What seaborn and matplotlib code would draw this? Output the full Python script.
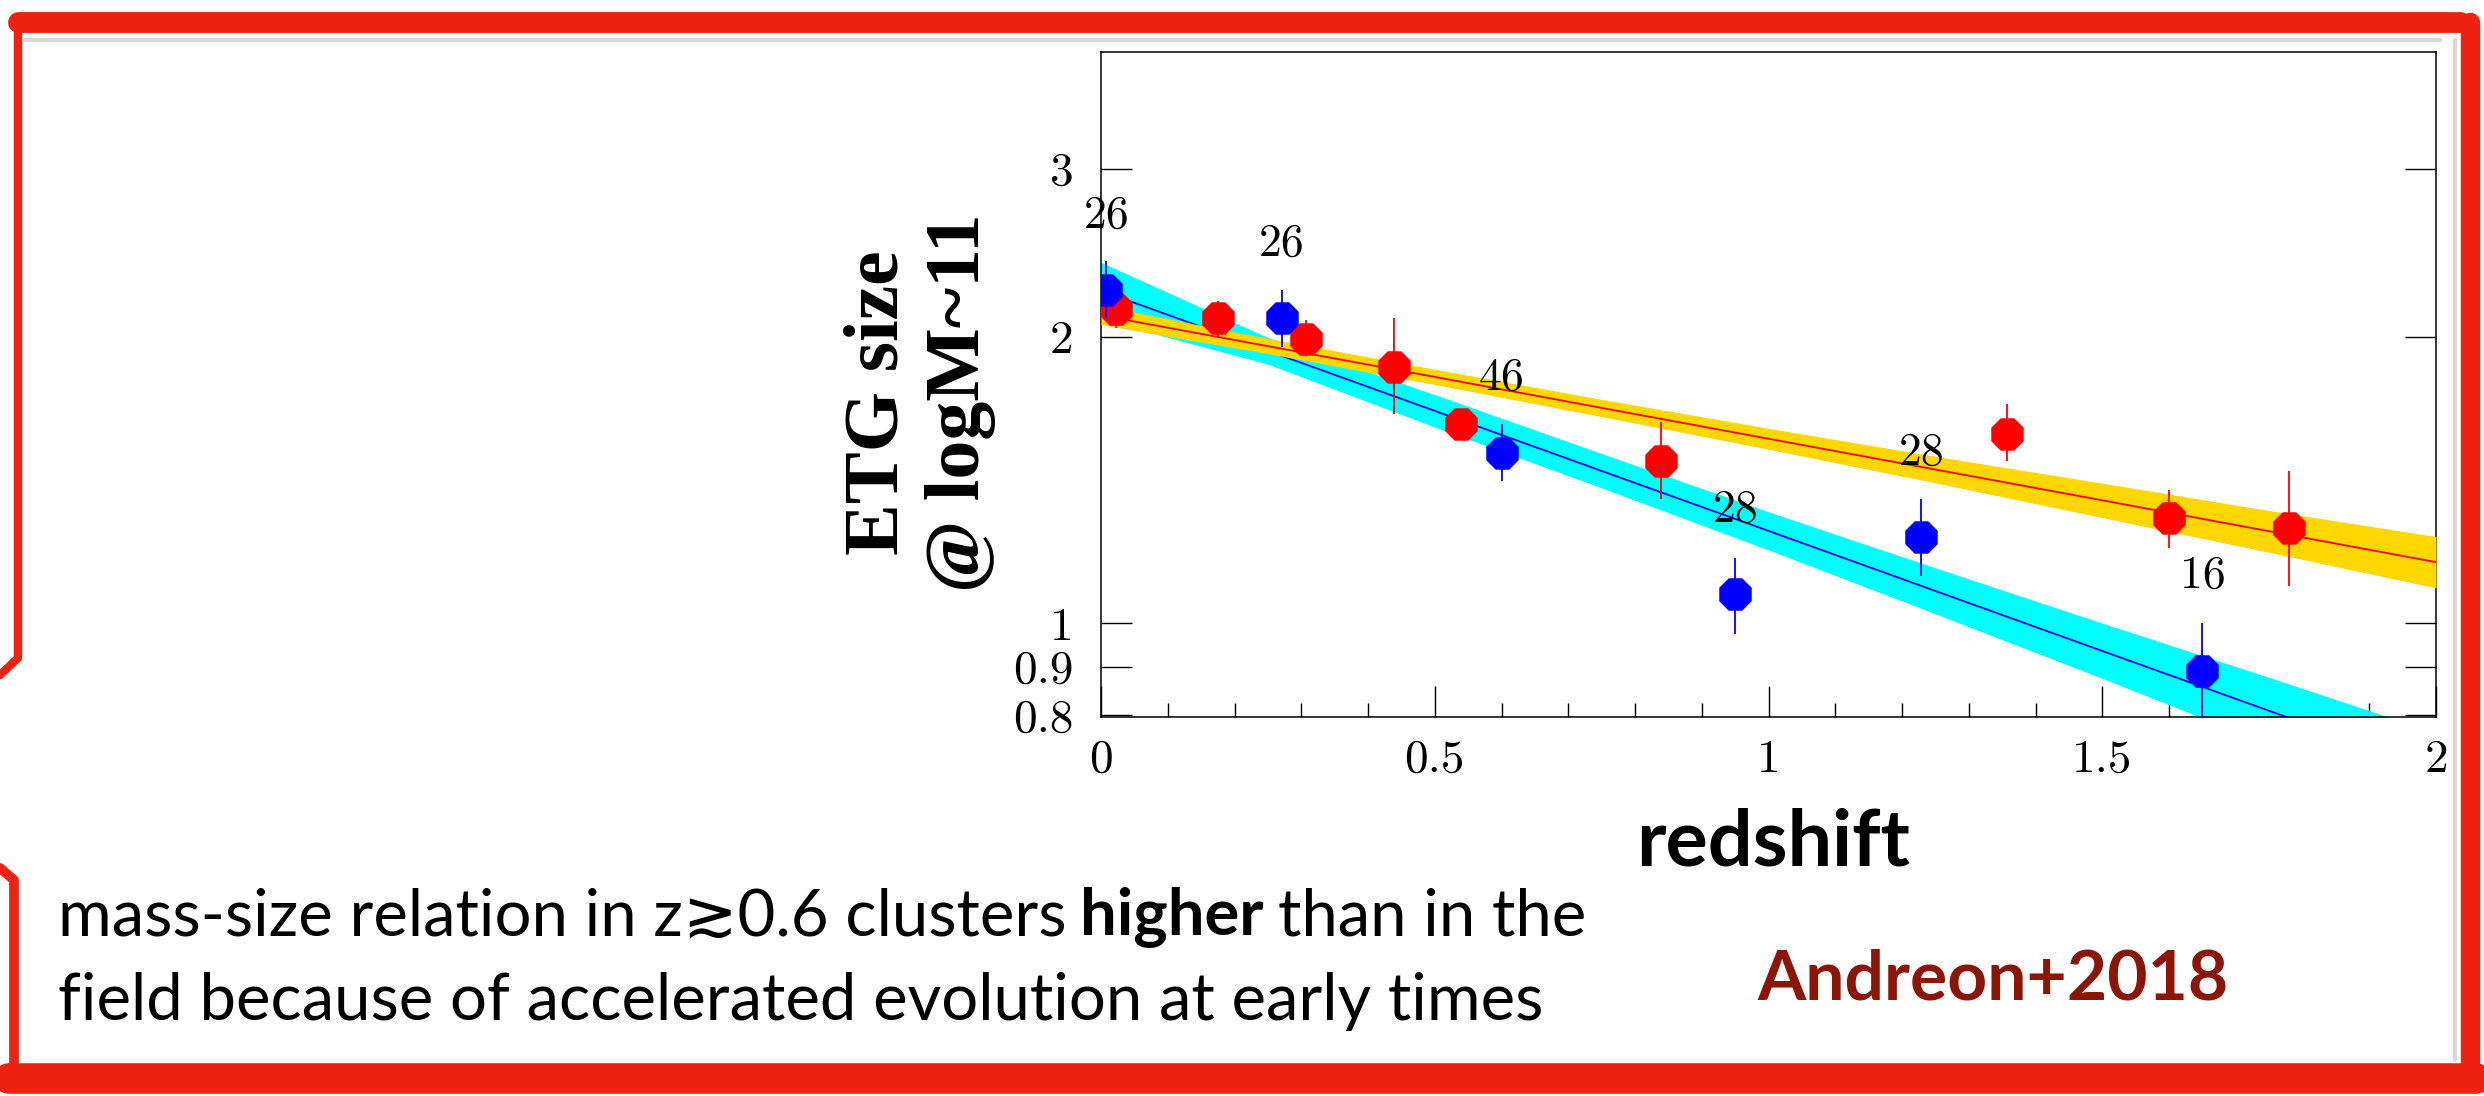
import numpy as np
import pandas as pd
import matplotlib
matplotlib.use("Agg")
import matplotlib.pyplot as plt
import seaborn as sns
from matplotlib.ticker import FixedLocator, FixedFormatter, NullLocator, MultipleLocator

# valores (tamano ETG vs redshift)
z_red = [0.023, 0.176, 0.307, 0.439, 0.540, 0.839, 1.358, 1.600, 1.780]
size_red = [2.14, 2.09, 1.99, 1.86, 1.62, 1.48, 1.58, 1.29, 1.26]
red_lo = [2.04, 2.00, 1.91, 1.66, 1.57, 1.35, 1.48, 1.20, 1.095]
red_hi = [2.20, 2.18, 2.08, 2.09, 1.68, 1.625, 1.70, 1.38, 1.445]

z_blue = [0.008, 0.271, 0.601, 0.950, 1.229, 1.650]
size_blue = [2.24, 2.09, 1.51, 1.072, 1.232, 0.890]
blue_lo = [2.09, 1.95, 1.41, 0.975, 1.122, 0.78]
blue_hi = [2.40, 2.24, 1.62, 1.17, 1.35, 1.00]
n_gal = ["26", "26", "46", "28", "28", "16"]
n_gal_y = [2.68, 2.50, 1.81, 1.315, 1.51, 1.12]

# ajustes y bandas
z_fit = [0, 0.25, 0.5, 0.75, 1.0, 1.25, 1.5, 1.75, 2.0]
red_fit = [2.105, 1.954, 1.814, 1.683, 1.562, 1.450, 1.346, 1.249, 1.159]
red_band_lo = [2.058, 1.919, 1.781, 1.648, 1.523, 1.404, 1.291, 1.187, 1.089]
red_band_hi = [2.155, 1.991, 1.848, 1.718, 1.602, 1.497, 1.403, 1.313, 1.233]
blue_fit = [2.234, 1.932, 1.671, 1.445, 1.250, 1.081, 0.935, 0.809, 0.700]
blue_band_lo = [2.084, 1.871, 1.607, 1.387, 1.194, 1.023, 0.875, 0.746, 0.638]
blue_band_hi = [2.393, 1.995, 1.738, 1.507, 1.309, 1.143, 1.000, 0.877, 0.767]

y_ticks = [0.8, 0.9, 1, 2, 3]
y_ticklabels = ["0.8", "0.9", "1", "2", "3"]

sns.set_style("ticks")
plt.rcParams['font.family'] = ['cmr10', 'DejaVu Serif']
plt.rcParams['axes.formatter.use_mathtext'] = True
plt.rcParams['text.color'] = 'black'
plt.rcParams['xtick.color'] = 'black'
plt.rcParams['ytick.color'] = 'black'

W, H = 2484, 1096
fig = plt.figure(figsize=(W / 100, H / 100), dpi=100)
ax = fig.add_axes([1101 / W, 1 - 717 / H, 1335 / W, 665 / H])
ax.set_yscale('log')

# bandas
ax.fill_between(z_fit, blue_band_lo, blue_band_hi, color='#00ffff', lw=0, zorder=1)
sns.lineplot(x=z_fit, y=blue_fit, color='#0000ff', lw=1.3, ax=ax, zorder=2)
ax.fill_between(z_fit, red_band_lo, red_band_hi, color='#ffd700', lw=0, zorder=3)
sns.lineplot(x=z_fit, y=red_fit, color='#ff0000', lw=1.3, ax=ax, zorder=4)

# puntos con barras de error
ax.vlines(z_red, red_lo, red_hi, color='#ff0000', lw=1.3, zorder=5)
sns.scatterplot(x=z_red, y=size_red, color='#ff0000', marker='8', s=640, linewidth=0, ax=ax, zorder=6)
ax.vlines(z_blue, blue_lo, blue_hi, color='#0000ff', lw=1.3, zorder=7)
sns.scatterplot(x=z_blue, y=size_blue, color='#0000ff', marker='8', s=640, linewidth=0, ax=ax, zorder=8)

for xx, yy, t in zip(z_blue, n_gal_y, n_gal):
    ax.text(xx, yy, t, ha='center', va='center', fontsize=33, zorder=9)

ax.set_xlim(0, 2)
ax.set_ylim(0.797, 3.98)
ax.yaxis.set_major_locator(FixedLocator(y_ticks))
ax.yaxis.set_major_formatter(FixedFormatter(y_ticklabels))
ax.yaxis.set_minor_locator(NullLocator())
ax.xaxis.set_major_locator(MultipleLocator(0.5))
ax.xaxis.set_minor_locator(MultipleLocator(0.1))
ax.xaxis.set_major_formatter(plt.FuncFormatter(lambda v, p: f"{v:g}"))
ax.tick_params(axis='y', which='major', direction='in', length=22, width=1, right=True, labelsize=34, pad=20)
ax.tick_params(axis='x', which='major', direction='in', length=22, width=1, top=False, labelsize=34, pad=16)
ax.tick_params(axis='x', which='minor', direction='in', length=10, width=1, top=False)
for s in ax.spines.values():
    s.set_linewidth(1.1)
    s.set_color('black')
ax.set_xlabel('')
ax.set_ylabel('')

# etiquetas de ejes
fig.text(920 / W, 1 - 403 / H, "ETG size\n@ logM~11", rotation=90, ha='center', va='center',
         multialignment='center', fontsize=56, fontweight='bold', family='Liberation Serif', linespacing=1.2)
fig.text(1773 / W, 1 - 865 / H, "redshift", ha='center', va='baseline', fontsize=57,
         fontweight='bold', family='Lato')

# texto inferior (con "higher" en negrita)
r = fig.canvas.get_renderer()
fam = ['Lato', 'DejaVu Sans']
fs = 47
t1 = fig.text(58 / W, 1 - 935 / H, "mass-size relation in z≳0.6 clusters", fontsize=fs, family=fam, va='baseline')
x1 = t1.get_window_extent(r).x1 + 14
t2 = fig.text(x1 / W, 1 - 935 / H, "higher", fontsize=fs, family=fam, fontweight='bold', va='baseline')
x2 = t2.get_window_extent(r).x1 + 14
fig.text(x2 / W, 1 - 935 / H, "than in the", fontsize=fs, family=fam, va='baseline')
fig.text(58 / W, 1 - 1020 / H, "field because of accelerated evolution at early times", fontsize=fs,
         family=fam, va='baseline')
fig.text(1993 / W, 1 - 1000 / H, "Andreon+2018", ha='center', va='baseline', fontsize=50,
         fontweight='bold', family='Lato', color='#8b1506')

# marco rojo dibujado a mano
fr = fig.add_axes([0, 0, 1, 1], zorder=20)
fr.set_xlim(0, W)
fr.set_ylim(H, 0)
fr.axis('off')
red = '#ee2211'
fr.plot([25, 2440], [40, 40], color='grey', lw=3, alpha=0.3)
fr.plot([2455, 2455], [40, 1060], color='grey', lw=3, alpha=0.3)
fr.plot([18, 2460], [22, 22], color=red, lw=15, solid_capstyle='round')
fr.plot([2470, 2470], [22, 1076], color=red, lw=14, solid_capstyle='round')
fr.plot([8, 2476], [1078, 1078], color=red, lw=22, solid_capstyle='round')
fr.plot([18, 18, 0], [22, 658, 675], color=red, lw=6)
fr.plot([0, 14, 14], [868, 880, 1078], color=red, lw=7)

fig.savefig('out.png', dpi=100)
